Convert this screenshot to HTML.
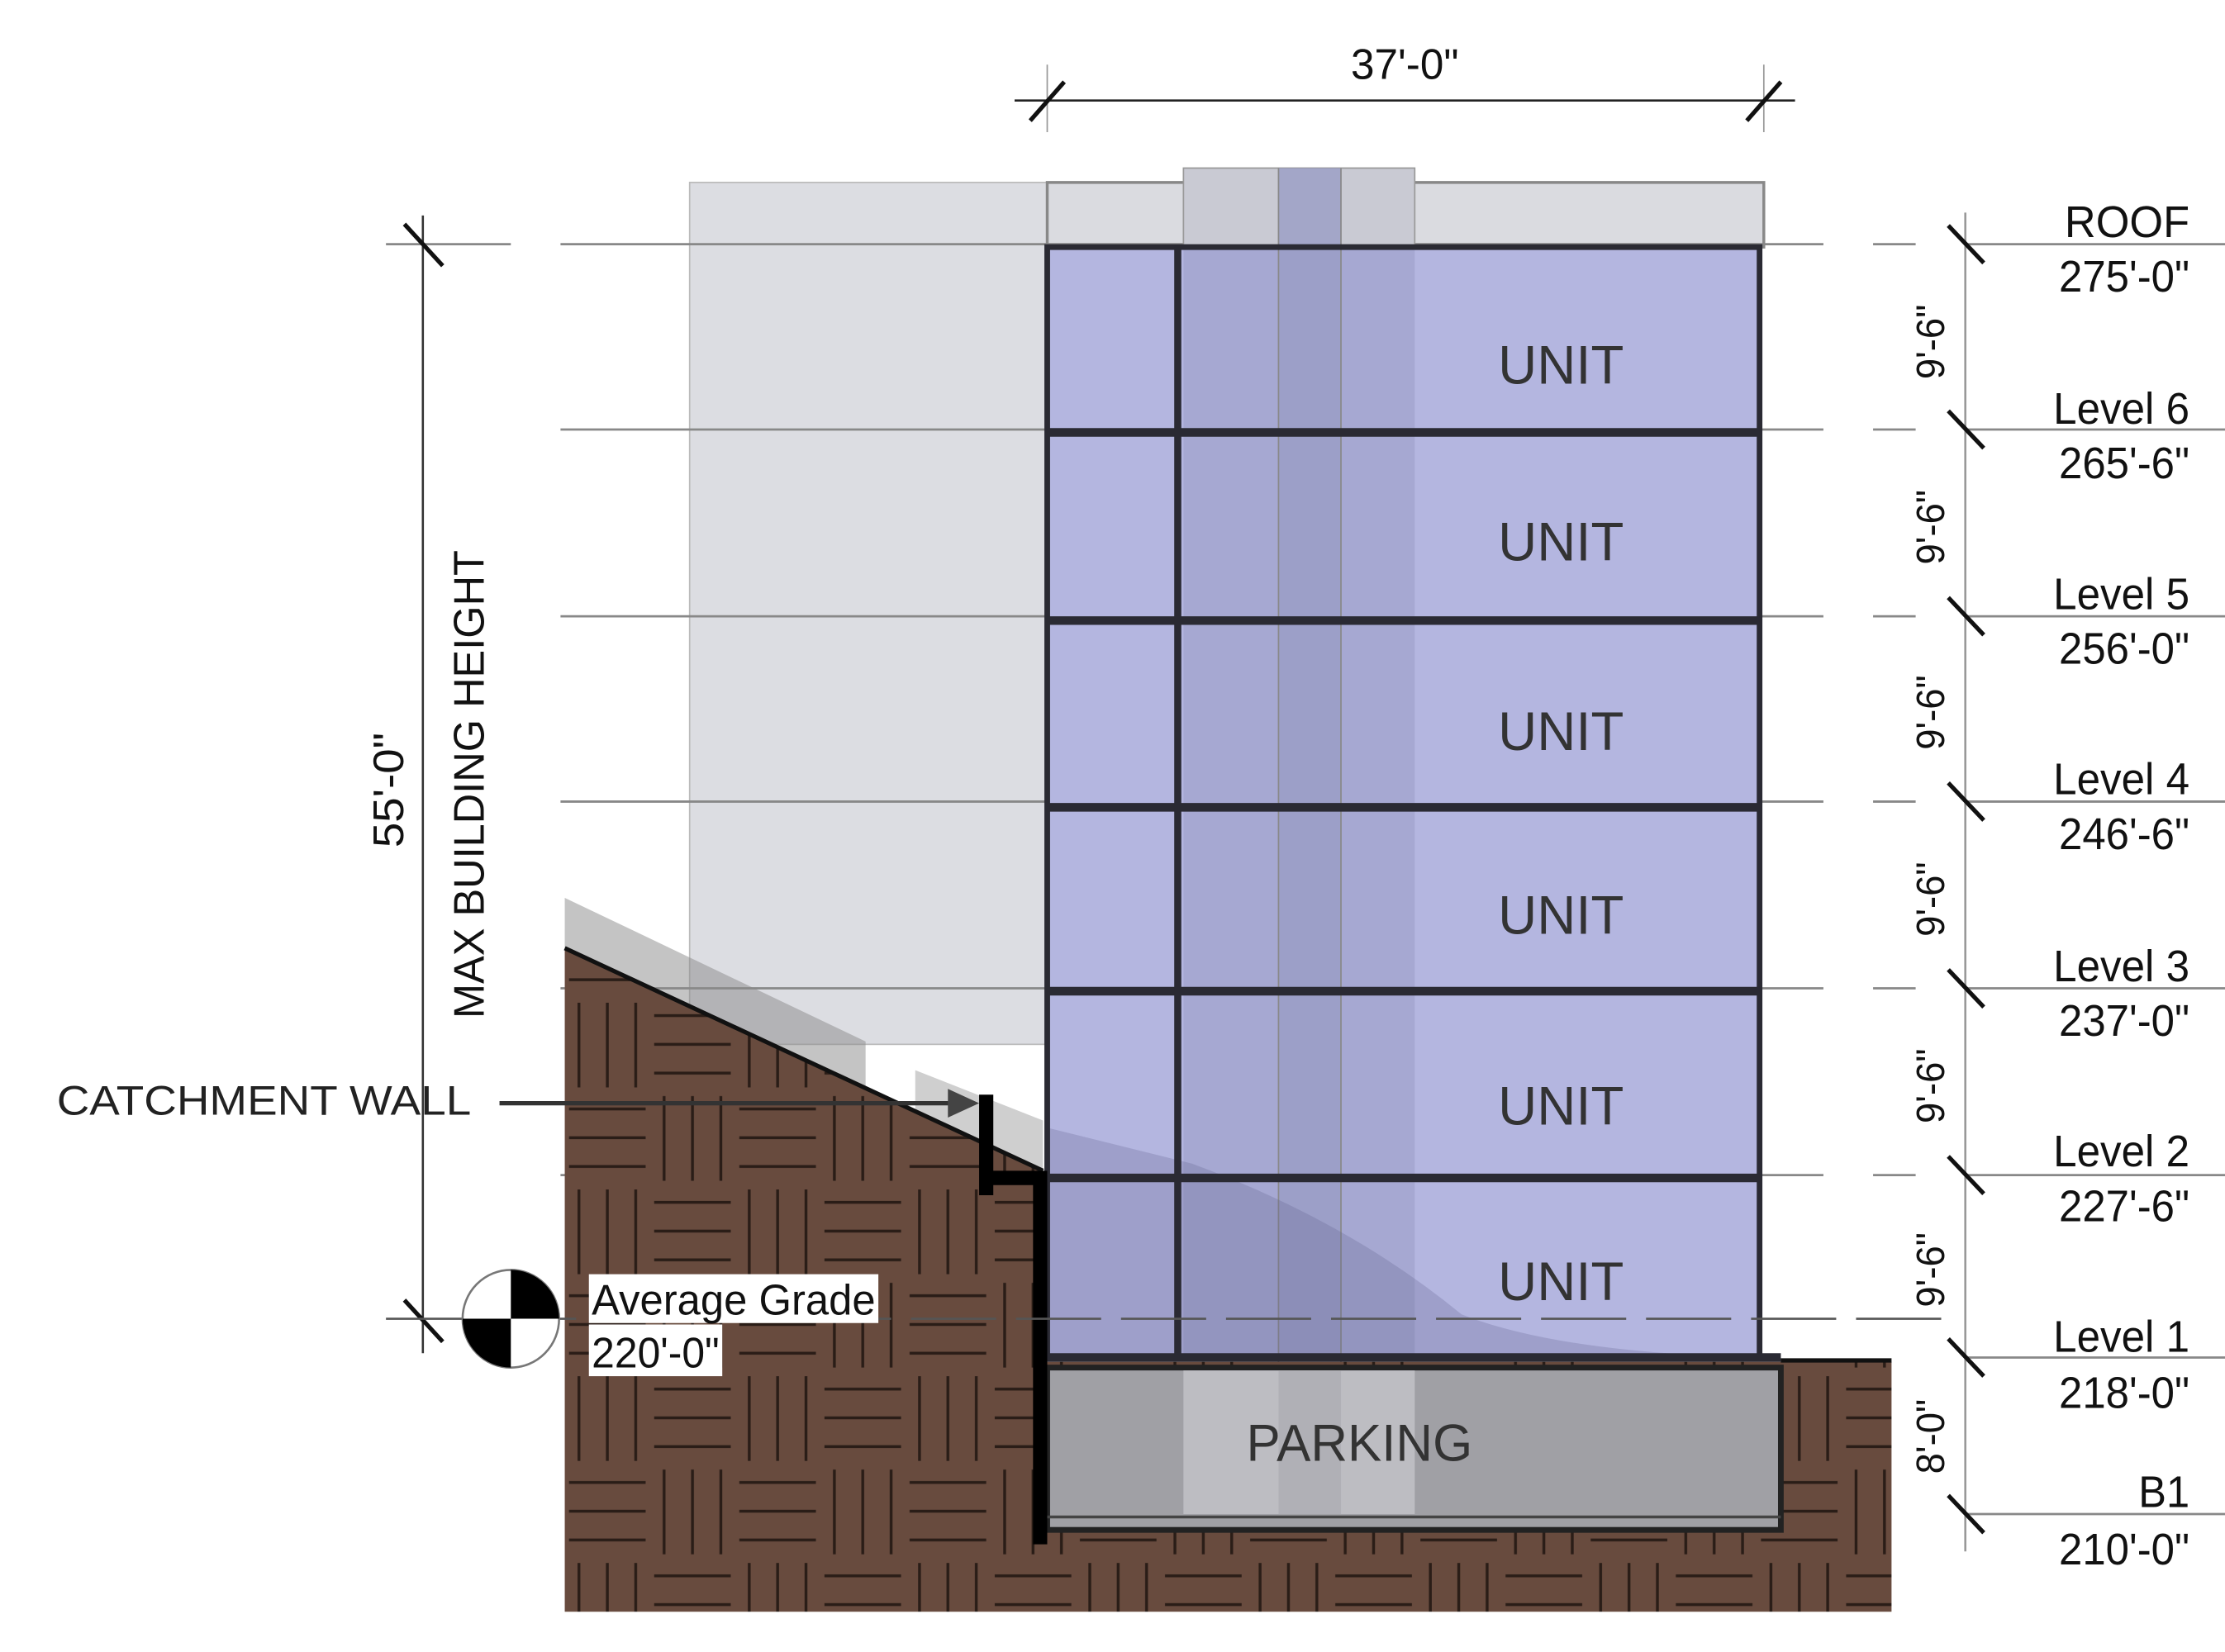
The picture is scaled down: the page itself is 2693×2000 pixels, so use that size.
<!DOCTYPE html>
<html><head><meta charset="utf-8">
<style>html,body{margin:0;padding:0;background:#fff}svg{display:block}</style>
</head><body>
<svg width="2693" height="2000" viewBox="0 0 1568 1150" preserveAspectRatio="none" xmlns="http://www.w3.org/2000/svg" font-family="Liberation Sans, sans-serif">
<defs>
<pattern id="brick" x="398" y="630" width="120" height="130" patternUnits="userSpaceOnUse">
<rect width="120" height="130" fill="#684b3e"/>
<g stroke="#2a1d17" stroke-width="2">
<line x1="3" y1="12" x2="57" y2="12"/><line x1="3" y1="32" x2="57" y2="32"/><line x1="3" y1="52" x2="57" y2="52"/>
<line x1="70" y1="3" x2="70" y2="62"/><line x1="90" y1="3" x2="90" y2="62"/><line x1="110" y1="3" x2="110" y2="62"/>
<line x1="10" y1="68" x2="10" y2="127"/><line x1="30" y1="68" x2="30" y2="127"/><line x1="50" y1="68" x2="50" y2="127"/>
<line x1="63" y1="77" x2="117" y2="77"/><line x1="63" y1="97" x2="117" y2="97"/><line x1="63" y1="117" x2="117" y2="117"/>
</g>
</pattern>
</defs>

<line x1="715" y1="70" x2="1265" y2="70" stroke="#222" stroke-width="1.5"/>
<line x1="738" y1="45" x2="738" y2="92" stroke="#999" stroke-width="1"/>
<line x1="1243" y1="45" x2="1243" y2="92" stroke="#999" stroke-width="1"/>
<line x1="726" y1="84" x2="750" y2="57" stroke="#111" stroke-width="3"/>
<line x1="1231" y1="84" x2="1255" y2="57" stroke="#111" stroke-width="3"/>
<text x="990" y="55" font-size="30" text-anchor="middle" textLength="76" lengthAdjust="spacingAndGlyphs" fill="#111">37'-0"</text>

<rect x="486" y="127" width="252" height="600" fill="#dcdde2" stroke="#bbb" stroke-width="1"/>
<rect x="738" y="127" width="505" height="45" fill="#dadbe0" stroke="#888" stroke-width="2"/>

<g stroke="#888" stroke-width="1.6">
<line x1="272" y1="170" x2="360" y2="170"/><line x1="395" y1="170" x2="1285" y2="170"/><line x1="1320" y1="170" x2="1350" y2="170"/><line x1="1385" y1="170" x2="1568" y2="170"/>
<line x1="395" y1="299" x2="1285" y2="299"/><line x1="1320" y1="299" x2="1350" y2="299"/><line x1="1385" y1="299" x2="1568" y2="299"/>
<line x1="395" y1="429" x2="1285" y2="429"/><line x1="1320" y1="429" x2="1350" y2="429"/><line x1="1385" y1="429" x2="1568" y2="429"/>
<line x1="395" y1="558" x2="1285" y2="558"/><line x1="1320" y1="558" x2="1350" y2="558"/><line x1="1385" y1="558" x2="1568" y2="558"/>
<line x1="395" y1="688" x2="1285" y2="688"/><line x1="1320" y1="688" x2="1350" y2="688"/><line x1="1385" y1="688" x2="1568" y2="688"/>
<line x1="395" y1="818" x2="1285" y2="818"/><line x1="1320" y1="818" x2="1350" y2="818"/><line x1="1385" y1="818" x2="1568" y2="818"/>
<line x1="1385" y1="945" x2="1568" y2="945"/>
<line x1="1385" y1="1054" x2="1568" y2="1054"/>
</g>

<rect x="738" y="172" width="502" height="773" fill="#b4b6e0"/>
<rect x="834" y="117" width="163" height="55" fill="#c9cad3" stroke="#999" stroke-width="1"/>
<rect x="834" y="172" width="163" height="773" fill="#a6a8d2"/>
<rect x="901" y="117" width="44" height="828" fill="#9a9cc6" opacity="0.8"/>
<line x1="901" y1="117" x2="901" y2="1055" stroke="#888" stroke-width="1"/>
<line x1="945" y1="117" x2="945" y2="1055" stroke="#888" stroke-width="1"/>
<path d="M738,785 L840,810 Q950,850 1030,915 Q1100,942 1240,945 L738,945 Z" fill="#5a5a88" opacity="0.25"/>
<rect x="738" y="172" width="502" height="773" fill="none" stroke="#2a2a33" stroke-width="4"/>
<g stroke="#2a2a33" stroke-width="6">
<line x1="738" y1="301" x2="1240" y2="301"/>
<line x1="738" y1="432" x2="1240" y2="432"/>
<line x1="738" y1="562" x2="1240" y2="562"/>
<line x1="738" y1="690" x2="1240" y2="690"/>
<line x1="738" y1="820" x2="1240" y2="820"/>
<line x1="738" y1="945" x2="1255" y2="945"/>
</g>
<line x1="830" y1="172" x2="830" y2="945" stroke="#2a2a33" stroke-width="5"/>

<g font-size="38" fill="#333" text-anchor="middle">
<text x="1100" y="267">UNIT</text>
<text x="1100" y="390">UNIT</text>
<text x="1100" y="522">UNIT</text>
<text x="1100" y="650">UNIT</text>
<text x="1100" y="783">UNIT</text>
<text x="1100" y="905">UNIT</text>
</g>

<path d="M398,660 L690,795 L735,815 L735,948 L1333,948 L1333,1122 L398,1122 Z" fill="url(#brick)"/>
<polygon points="398,625 610,725 610,757 398,660" fill="#8a8a8a" opacity="0.5"/>
<polygon points="645,745 735,780 735,815 645,773" fill="#888" opacity="0.4"/>
<line x1="398" y1="660" x2="735" y2="815" stroke="#111" stroke-width="3"/>
<line x1="1255" y1="947" x2="1333" y2="947" stroke="#111" stroke-width="3"/>
<rect x="738" y="952" width="517" height="113" fill="#a0a0a5" stroke="#222" stroke-width="4"/>
<rect x="834" y="954" width="163" height="100" fill="#bdbdc2"/>
<rect x="901" y="954" width="44" height="100" fill="#b0b0b6"/>
<line x1="738" y1="1056" x2="1255" y2="1056" stroke="#444" stroke-width="2"/>
<text x="958" y="1017" font-size="36" fill="#333" text-anchor="middle">PARKING</text>
<path d="M695,762 L695,832 M695,820 L733,820 L733,1075" stroke="#000" stroke-width="10" fill="none"/>

<text x="40" y="776" font-size="29" fill="#222" textLength="292" lengthAdjust="spacingAndGlyphs">CATCHMENT WALL</text>
<line x1="352" y1="768" x2="672" y2="768" stroke="#333" stroke-width="3"/>
<polygon points="690,768 668,758 668,778" fill="#444"/>

<line x1="298" y1="150" x2="298" y2="942" stroke="#333" stroke-width="1.5"/>
<line x1="285" y1="156" x2="312" y2="185" stroke="#111" stroke-width="3"/>
<line x1="285" y1="905" x2="312" y2="934" stroke="#111" stroke-width="3"/>
<line x1="272" y1="918" x2="1380" y2="918" stroke="#555" stroke-width="1.5" stroke-dasharray="60,14"/>
<text transform="translate(284,550) rotate(-90)" font-size="30" fill="#111" text-anchor="middle" textLength="80" lengthAdjust="spacingAndGlyphs">55'-0"</text>
<text transform="translate(341,546) rotate(-90)" font-size="30" fill="#111" text-anchor="middle" textLength="326" lengthAdjust="spacingAndGlyphs">MAX BUILDING HEIGHT</text>

<circle cx="360" cy="918" r="34" fill="#fff" stroke="#777" stroke-width="1.5"/>
<path d="M360,918 L360,884 A34,34 0 0 1 394,918 Z" fill="#000"/>
<path d="M360,918 L360,952 A34,34 0 0 1 326,918 Z" fill="#000"/>
<rect x="415" y="887" width="204" height="34" fill="#fff"/>
<rect x="415" y="922" width="94" height="36" fill="#fff"/>
<text x="417" y="915" font-size="30" fill="#111" textLength="200" lengthAdjust="spacingAndGlyphs">Average Grade</text>
<text x="417" y="952" font-size="30" fill="#111" textLength="90" lengthAdjust="spacingAndGlyphs">220'-0"</text>

<line x1="1385" y1="148" x2="1385" y2="1080" stroke="#999" stroke-width="1.5"/>
<g stroke="#111" stroke-width="3">
<line x1="1373" y1="157" x2="1398" y2="183"/>
<line x1="1373" y1="286" x2="1398" y2="312"/>
<line x1="1373" y1="416" x2="1398" y2="442"/>
<line x1="1373" y1="545" x2="1398" y2="571"/>
<line x1="1373" y1="675" x2="1398" y2="701"/>
<line x1="1373" y1="805" x2="1398" y2="831"/>
<line x1="1373" y1="932" x2="1398" y2="958"/>
<line x1="1373" y1="1041" x2="1398" y2="1067"/>
</g>
<g font-size="28" fill="#111" text-anchor="middle">
<text transform="translate(1370,238) rotate(-90)" textLength="52" lengthAdjust="spacingAndGlyphs">9'-6"</text>
<text transform="translate(1370,367) rotate(-90)" textLength="52" lengthAdjust="spacingAndGlyphs">9'-6"</text>
<text transform="translate(1370,496) rotate(-90)" textLength="52" lengthAdjust="spacingAndGlyphs">9'-6"</text>
<text transform="translate(1370,626) rotate(-90)" textLength="52" lengthAdjust="spacingAndGlyphs">9'-6"</text>
<text transform="translate(1370,756) rotate(-90)" textLength="52" lengthAdjust="spacingAndGlyphs">9'-6"</text>
<text transform="translate(1370,884) rotate(-90)" textLength="52" lengthAdjust="spacingAndGlyphs">9'-6"</text>
<text transform="translate(1370,1000) rotate(-90)" textLength="52" lengthAdjust="spacingAndGlyphs">8'-0"</text>
</g>
<g font-size="31" fill="#111" text-anchor="end">
<text x="1543" y="165" textLength="88" lengthAdjust="spacingAndGlyphs">ROOF</text>
<text x="1543" y="203" textLength="92" lengthAdjust="spacingAndGlyphs">275'-0"</text>
<text x="1543" y="295" textLength="96" lengthAdjust="spacingAndGlyphs">Level 6</text>
<text x="1543" y="333" textLength="92" lengthAdjust="spacingAndGlyphs">265'-6"</text>
<text x="1543" y="424" textLength="96" lengthAdjust="spacingAndGlyphs">Level 5</text>
<text x="1543" y="462" textLength="92" lengthAdjust="spacingAndGlyphs">256'-0"</text>
<text x="1543" y="553" textLength="96" lengthAdjust="spacingAndGlyphs">Level 4</text>
<text x="1543" y="591" textLength="92" lengthAdjust="spacingAndGlyphs">246'-6"</text>
<text x="1543" y="683" textLength="96" lengthAdjust="spacingAndGlyphs">Level 3</text>
<text x="1543" y="721" textLength="92" lengthAdjust="spacingAndGlyphs">237'-0"</text>
<text x="1543" y="812" textLength="96" lengthAdjust="spacingAndGlyphs">Level 2</text>
<text x="1543" y="850" textLength="92" lengthAdjust="spacingAndGlyphs">227'-6"</text>
<text x="1543" y="941" textLength="96" lengthAdjust="spacingAndGlyphs">Level 1</text>
<text x="1543" y="980" textLength="92" lengthAdjust="spacingAndGlyphs">218'-0"</text>
<text x="1543" y="1049" textLength="36" lengthAdjust="spacingAndGlyphs">B1</text>
<text x="1543" y="1089" textLength="92" lengthAdjust="spacingAndGlyphs">210'-0"</text>
</g>
</svg>
</body></html>
